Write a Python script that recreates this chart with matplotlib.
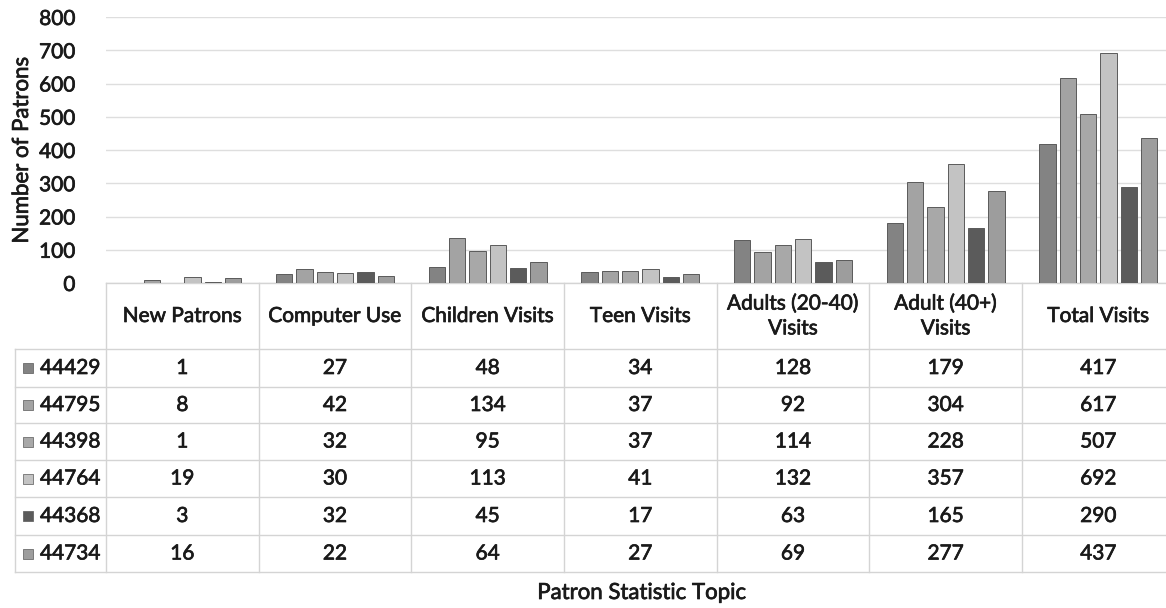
import matplotlib
matplotlib.use("Agg")
import matplotlib.pyplot as plt
import matplotlib.patheffects as pe
from matplotlib.transforms import blended_transform_factory

# ---------------- data ----------------
categories = ["New Patrons", "Computer Use", "Children Visits", "Teen Visits",
              "Adults (20-40)\nVisits", "Adult (40+)\nVisits", "Total Visits"]
series_names = ["44429", "44795", "44398", "44764", "44368", "44734"]
s_44429 = [1, 27, 48, 34, 128, 179, 417]
s_44795 = [8, 42, 134, 37, 92, 304, 617]
s_44398 = [1, 32, 95, 37, 114, 228, 507]
s_44764 = [19, 30, 113, 41, 132, 357, 692]
s_44368 = [3, 32, 45, 17, 63, 165, 290]
s_44734 = [16, 22, 64, 27, 69, 277, 437]
series_values = [s_44429, s_44795, s_44398, s_44764, s_44368, s_44734]
y_ticks = [0, 100, 200, 300, 400, 500, 600, 700, 800]

# ---------------- style ----------------
colors = ["#838383", "#a3a3a3", "#a8a8a8", "#c3c3c3", "#5b5b5b", "#9d9d9d"]
edge = "#5a5a5a"
grid_c = "#dedede"
line_c = "#d4d4d4"
txt_c = "#1a1a1a"
FONT = "Lato"
plt.rcParams["font.family"] = [FONT, "DejaVu Sans"]
heavy = [pe.withStroke(linewidth=0.5, foreground=txt_c)]

W, H = 1166, 608
fig = plt.figure(figsize=(W / 100, H / 100), dpi=100)
ax_top_px, ax_bot_px = 17, 283
ax_left_px, col_w_px = 106, 152.67
n_cat = len(categories)
ax = fig.add_axes([ax_left_px / W, 1 - ax_bot_px / H,
                   n_cat * col_w_px / W, (ax_bot_px - ax_top_px) / H])
ax.set_xlim(0, n_cat)
ax.set_ylim(0, 800)
ax.set_yticks(y_ticks)
ax.set_yticklabels([str(t) for t in y_ticks], fontsize=15, color=txt_c)
for lab in ax.get_yticklabels():
    lab.set_path_effects(heavy)
ax.tick_params(axis="y", length=0, pad=22)
ax.tick_params(axis="x", length=0, labelbottom=False)
ax.set_xticks([])
for s in ["left", "right", "top"]:
    ax.spines[s].set_visible(False)
ax.spines["bottom"].set_color(line_c)
ax.spines["bottom"].set_linewidth(1.0)
ax.yaxis.grid(True, color=grid_c, linewidth=1.0)
ax.set_axisbelow(True)

# bars
pitch = 0.133
bw = 0.107
n_s = len(series_values)
for i, vals in enumerate(series_values):
    xs = [c + 0.5 + (i - (n_s - 1) / 2) * pitch for c in range(n_cat)]
    ax.bar(xs, vals, width=bw, color=colors[i], edgecolor=edge, linewidth=0.7, zorder=3)

# ---------------- data table ----------------
trans = blended_transform_factory(ax.transData, ax.transAxes)
ax_h = ax_bot_px - ax_top_px

def yax(py):
    return (ax_bot_px - py) / ax_h

def xdat(px):
    return (px - ax_left_px) / col_w_px

row_edges_px = [349, 387, 423, 460, 497, 535, 572]
header_center_px = 316
legend_left = xdat(15)

# horizontal lines
for py in row_edges_px:
    ax.plot([legend_left, n_cat], [yax(py)] * 2, color=line_c, lw=1.0,
            transform=trans, clip_on=False)
# vertical lines
for k in range(n_cat + 1):
    ax.plot([k, k], [yax(ax_bot_px), yax(row_edges_px[-1])], color=line_c, lw=1.0,
            transform=trans, clip_on=False)
ax.plot([legend_left] * 2, [yax(row_edges_px[0]), yax(row_edges_px[-1])], color=line_c,
        lw=1.0, transform=trans, clip_on=False)

# header
for c, name in enumerate(categories):
    ax.text(c + 0.5, yax(header_center_px), name, transform=trans, ha="center",
            va="center", fontsize=15, color=txt_c, linespacing=1.3, clip_on=False,
            path_effects=heavy)

# rows
for r, (nm, vals) in enumerate(zip(series_names, series_values)):
    yc = yax((row_edges_px[r] + row_edges_px[r + 1]) / 2)
    ax.scatter([xdat(28)], [yc], marker="s", s=55, color=colors[r], edgecolor=edge,
               linewidth=0.5, transform=trans, clip_on=False, zorder=4)
    ax.text(xdat(40), yc, nm, transform=trans, ha="left", va="center",
            fontsize=15, color=txt_c, clip_on=False, path_effects=heavy)
    for c, v in enumerate(vals):
        ax.text(c + 0.5, yc, str(v), transform=trans, ha="center", va="center",
                fontsize=15, color=txt_c, clip_on=False, path_effects=heavy)

# axis titles
fig.text(22 / W, 1 - 150 / H, "Number of Patrons", rotation=90, ha="center",
         va="center", fontsize=16, color=txt_c, path_effects=heavy)
fig.text(642 / W, 1 - 593 / H, "Patron Statistic Topic", ha="center", va="center",
         fontsize=16, color=txt_c, path_effects=heavy)

fig.savefig("out.png", dpi=100, facecolor="white")
